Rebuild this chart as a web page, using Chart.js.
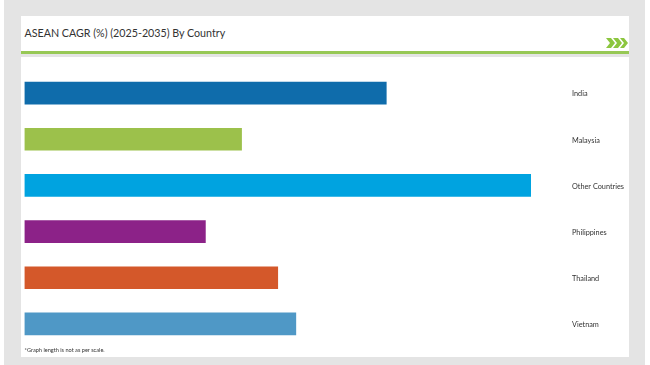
<!DOCTYPE html>
<html>
<head>
<meta charset="utf-8">
<title>ASEAN CAGR by Country</title>
<script src="https://cdn.jsdelivr.net/npm/chart.js@4"></script>
<style>
    html, body { margin: 0; padding: 0; background: #fff; }
    #page { position: relative; width: 650px; height: 365px; overflow: hidden; }
    .box { position: absolute; }
    .txt { position: absolute; font-family: Lato, "Open Sans", sans-serif; color: #333; white-space: nowrap; }
    canvas { position: absolute; left: 0; top: 0; }
</style>
</head>
<body>
<div id="page">
    <div class="box" style="left:4px;top:0;width:641px;height:365px;background:#e4e4e4"></div>
    <div class="box" style="left:21px;top:16px;width:608px;height:35px;background:#fff"></div>
    <div class="box" style="left:21px;top:51px;width:608px;height:3px;background:#97c855"></div>
    <div class="box" style="left:21px;top:57px;width:608px;height:300px;background:#fff"></div>
    <div class="txt" id="title" style="left:24.5px;top:25.5px;font-size:10.7px;line-height:14px">ASEAN CAGR (%) (2025-2035) By Country</div>
    <svg class="box" style="left:605px;top:37px" width="24" height="12" viewBox="0 0 24 12">
        <polygon fill="#8cc63f" points="1,1 6,1 10,6 6,11 1,11 5,6"/>
        <polygon fill="#8cc63f" points="8,1 13,1 17,6 13,11 8,11 12,6"/>
        <polygon fill="#8cc63f" points="15,1 19,1 23,6 19,11 15,11 19,6"/>
    </svg>
    <canvas id="chart" width="650" height="365"></canvas>
    <div class="txt" id="note" style="left:24.5px;top:346px;font-size:5.6px;line-height:8px">*Graph length is not as per scale.</div>
</div>
<script>
const countries = ['India', 'Malaysia', 'Other Countries', 'Philippines', 'Thailand', 'Vietnam'];
const cagrValues = [5, 3, 7, 2.5, 3.5, 3.75];
const barColors = ['#0f6cab', '#9cc14b', '#00a3e0', '#8c2288', '#d4582a', '#4f98c6'];

const ctx = document.getElementById('chart').getContext('2d');

const chart = new Chart(ctx, {
    type: 'bar',
    data: {
        labels: countries,
        datasets: [
            {
                label: 'CAGR (%)',
                data: cagrValues,
                backgroundColor: barColors,
                barThickness: 22
            }
        ]
    },
    options: {
        indexAxis: 'y',
        responsive: false,
        animation: false,
        layout: {
            padding: { left: 24.5, top: 70, bottom: 18, right: 0 }
        },
        plugins: {
            legend: { display: false },
            tooltip: { enabled: false }
        },
        scales: {
            x: {
                display: false,
                min: 0,
                max: 7
            },
            y: {
                position: 'right',
                grid: { display: false, drawTicks: false },
                border: { display: false },
                // the big tick padding would otherwise also pad the axis top and bottom
                afterFit: scale => {
                    scale.width = 119;
                    scale.paddingTop = 0;
                    scale.paddingBottom = 0;
                },
                ticks: {
                    align: 'center',
                    crossAlign: 'near',
                    padding: 41,
                    labelOffset: 1,
                    color: '#333',
                    font: { family: 'Lato', size: 7.3 }
                }
            }
        }
    }
});
</script>
</body>
</html>
